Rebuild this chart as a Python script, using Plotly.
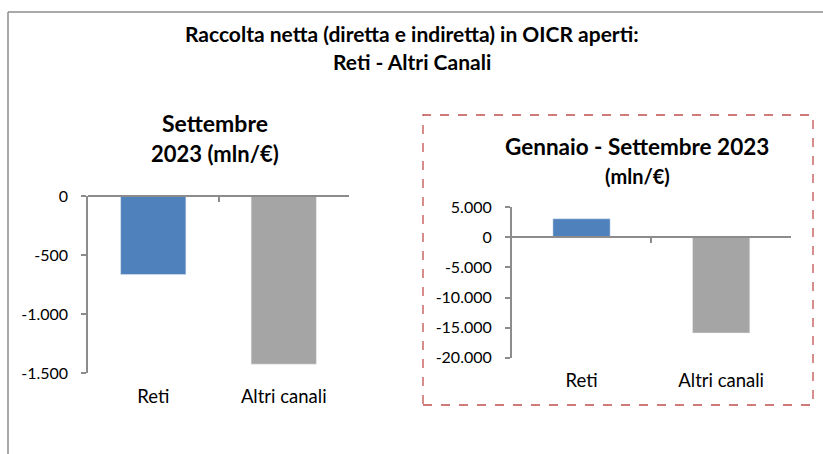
import plotly.graph_objects as go

# ---- data ----
categories = ["Reti", "Altri canali"]
sett_values = [-665, -1425]
genset_values = [3100, -15900]

left_tick_vals = [0, -500, -1000, -1500]
left_tick_text = ["0", "-500", "-1.000", "-1.500"]
right_tick_vals = [5000, 0, -5000, -10000, -15000, -20000]
right_tick_text = ["5.000", "0", "-5.000", "-10.000", "-15.000", "-20.000"]

left_range = [-1500, 0]
right_range = [-20000, 5000]

colors = ["#4F81BD", "#A5A5A5"]
FONT = "Lato"
W, H = 823, 454
AXC = "#8C8C8C"

def px(x):
    return x / W

def py(y):
    return 1 - y / H

left_dom_x = [px(88), px(349)]
left_dom_y = [py(373), py(196)]
right_dom_x = [px(511.7), px(791)]
right_dom_y = [py(357.7), py(207.3)]

def zero_pos(dom, rng):
    return dom[0] + (0 - rng[0]) / (rng[1] - rng[0]) * (dom[1] - dom[0])

fig = go.Figure()
fig.add_trace(go.Bar(x=categories, y=sett_values, marker_color=colors, width=0.5,
                     xaxis="x", yaxis="y", showlegend=False, hoverinfo="x+y"))
fig.add_trace(go.Bar(x=categories, y=genset_values, marker_color=colors, width=0.41,
                     xaxis="x2", yaxis="y2", showlegend=False, hoverinfo="x+y"))

tickfont = dict(family=FONT, size=16, color="#000000")
catfont = dict(family=FONT, size=18.5, color="#000000")

common_cat = dict(type="category", range=[-0.5, 1.5], showline=False, ticks="",
                  showgrid=False, zeroline=False, tickfont=catfont, fixedrange=True,
                  automargin=False)
line_axis = dict(type="linear", range=[-0.5, 1.5], showline=True, linecolor=AXC, linewidth=1.5,
                 ticks="inside", ticklen=5, tickcolor=AXC, tickwidth=1.5,
                 tickvals=[-0.5, 0.5, 1.5], showticklabels=False, showgrid=False,
                 zeroline=False, side="top", anchor="free", fixedrange=True, automargin=False)
yax_common = dict(showline=True, linecolor=AXC, linewidth=1.5, ticks="outside", ticklen=5,
                  tickcolor=AXC, tickwidth=1.5, showgrid=False, zeroline=False,
                  tickfont=tickfont, ticklabelstandoff=10, fixedrange=True, automargin=False)

fig.update_layout(
    width=W, height=H, autosize=False,
    margin=dict(l=0, r=0, t=0, b=0, pad=0, autoexpand=False),
    showlegend=False,
    paper_bgcolor="white", plot_bgcolor="rgba(0,0,0,0)",
    font=dict(family=FONT, color="#000000"),
    xaxis=dict(domain=left_dom_x, anchor="y", ticklabelstandoff=10, **common_cat),
    yaxis=dict(domain=left_dom_y, anchor="x", range=left_range, tickvals=left_tick_vals,
               ticktext=left_tick_text, **yax_common),
    xaxis2=dict(domain=right_dom_x, anchor="y2", ticklabelstandoff=10, **common_cat),
    yaxis2=dict(domain=right_dom_y, anchor="x2", range=right_range, tickvals=right_tick_vals,
                ticktext=right_tick_text, **yax_common),
    xaxis3=dict(domain=left_dom_x, overlaying="x", position=zero_pos(left_dom_y, left_range), **line_axis),
    xaxis4=dict(domain=right_dom_x, overlaying="x2", position=zero_pos(right_dom_y, right_range), **line_axis),
)

# invisible traces to bind the overlay axes
fig.add_trace(go.Scatter(x=[None], y=[None], xaxis="x3", yaxis="y", showlegend=False, hoverinfo="skip"))
fig.add_trace(go.Scatter(x=[None], y=[None], xaxis="x4", yaxis="y2", showlegend=False, hoverinfo="skip"))

ann = [
    dict(text="<b>Raccolta netta (diretta e indiretta) in OICR aperti:</b>", x=px(412), y=py(33), size=21),
    dict(text="<b>Reti - Altri Canali</b>", x=px(412), y=py(62), size=21),
    dict(text="<b>Settembre</b>", x=px(215), y=py(123), size=23),
    dict(text="<b>2023 (mln/€)</b>", x=px(215), y=py(153), size=22),
    dict(text="<b>Gennaio - Settembre 2023</b>", x=px(637), y=py(147), size=22.5),
    dict(text="<b>(mln/€)</b>", x=px(637), y=py(176), size=20),
]
for a in ann:
    fig.add_annotation(text=a["text"], x=a["x"], y=a["y"], xref="paper", yref="paper",
                       showarrow=False, xanchor="center", yanchor="middle",
                       font=dict(family=FONT, size=a["size"], color="#000000"))

# outer frame (top and left edges visible)
fig.add_shape(type="line", xref="paper", yref="paper", x0=px(8), x1=1.02, y0=py(12), y1=py(12),
              line=dict(color="#8C8C8C", width=1.5))
fig.add_shape(type="line", xref="paper", yref="paper", x0=px(8), x1=px(8), y0=py(12), y1=-0.02,
              line=dict(color="#8C8C8C", width=1.5))
# dashed red box around the second chart
fig.add_shape(type="rect", xref="paper", yref="paper", x0=px(423), x1=px(813), y0=py(405), y1=py(115),
              line=dict(color="#C0504D", width=1.3, dash="dash"), fillcolor="rgba(0,0,0,0)", layer="below")

fig.write_html("out.html",
               config={"displayModeBar": False, "responsive": False},
               post_script="document.body.style.margin='0';document.body.style.padding='0';")
